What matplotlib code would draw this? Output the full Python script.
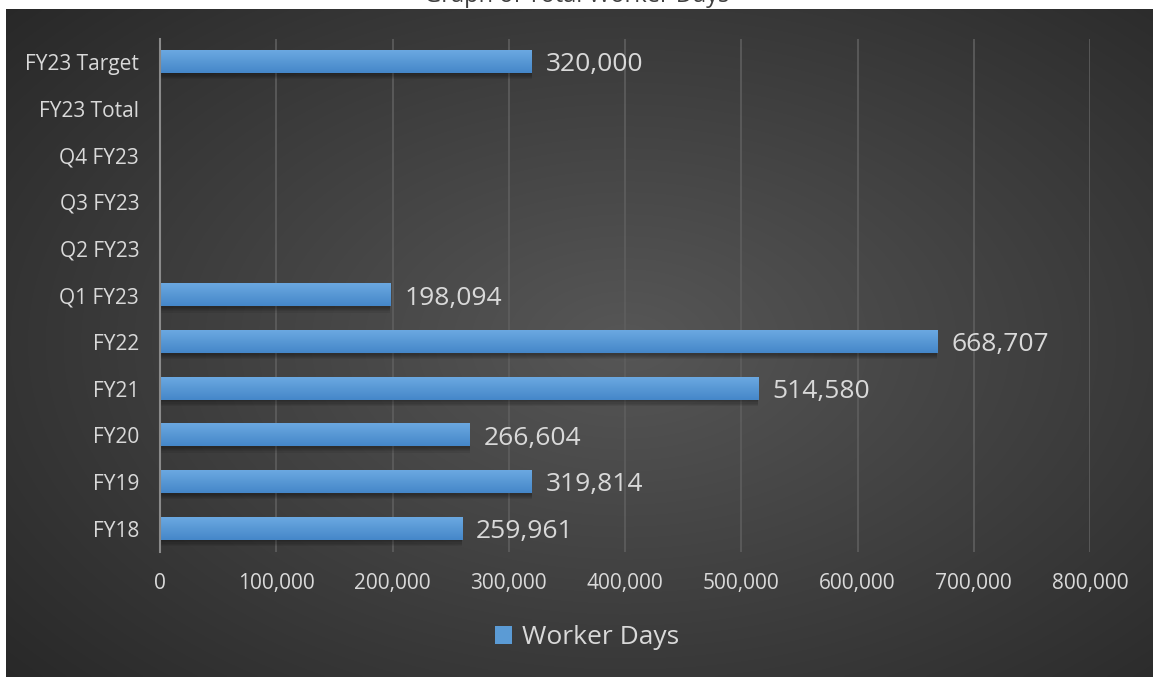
import numpy as np
import matplotlib.pyplot as plt
from matplotlib.patches import Rectangle
from matplotlib.ticker import FuncFormatter

categories = ['FY18', 'FY19', 'FY20', 'FY21', 'FY22', 'Q1 FY23',
              'Q2 FY23', 'Q3 FY23', 'Q4 FY23', 'FY23 Total', 'FY23 Target']
worker_days = [259961, 319814, 266604, 514580, 668707, 198094,
               np.nan, np.nan, np.nan, np.nan, 320000]
x_ticks = [0, 100000, 200000, 300000, 400000, 500000, 600000, 700000, 800000]

plt.rcParams['font.family'] = ['Open Sans', 'DejaVu Sans']
txt = '#d9d9d9'

fig = plt.figure(figsize=(11.53, 6.77), dpi=100, facecolor='white')

# => dark panel with radial gradient
bg = fig.add_axes([6 / 1153, 0, 1147 / 1153, 668 / 677])
yy, xx = np.mgrid[0:1:300j, 0:1:500j]
r = np.sqrt(((xx - 0.54) / 0.75) ** 2 + ((yy - 0.5) / 0.8) ** 2)
r = np.clip(r, 0, 1)
shade = 0.34 - 0.19 * r
bg.imshow(np.dstack([shade] * 3), aspect='auto', extent=(0, 1, 0, 1),
          interpolation='bilinear')
bg.set_axis_off()

# title, cut off by the top of the picture as in the original
fig.text(0.5, 1 - 2.5 / 677, 'Graph of Total Worker Days', ha='center',
         va='baseline', fontsize=17, color='#404040')

ax = fig.add_axes([160 / 1153, 1 - 552 / 677, 930 / 1153, 513.5 / 677])
ax.patch.set_alpha(0)
y = np.arange(len(categories))
h = 0.48

# soft bar shadows
for yi, v in zip(y, worker_days):
    if np.isnan(v):
        continue
    for k in range(5):
        off = 0.03 + 0.025 * k
        ax.add_patch(Rectangle((0, yi - h / 2 - off), v, h, color='black',
                               alpha=0.07, lw=0, zorder=2))

bars = ax.barh(y, np.nan_to_num(worker_days), height=h, color='#5b9bd5',
               zorder=3, label='Worker Days')

# vertical gradient on each bar
grad = np.linspace(0, 1, 50).reshape(-1, 1)
top_c = np.array([0.42, 0.66, 0.88])
bot_c = np.array([0.27, 0.53, 0.79])
img = top_c * (1 - grad[..., None]) + bot_c * grad[..., None]
for yi, v in zip(y, worker_days):
    if np.isnan(v):
        continue
    ax.imshow(img, extent=(0, v, yi - h / 2, yi + h / 2), aspect='auto',
              zorder=4, interpolation='bilinear')
    ax.text(v + 12000, yi, f'{int(v):,}', va='center_baseline', ha='left',
            fontsize=19, color=txt, zorder=5)

ax.set_xlim(0, 800000)
ax.set_ylim(-0.5, len(categories) - 0.5)
ax.set_xticks(x_ticks)
ax.xaxis.set_major_formatter(FuncFormatter(lambda v, p: f'{int(v):,}'))
ax.set_yticks(y)
ax.set_yticklabels(categories)
ax.tick_params(axis='both', length=0, labelsize=15, colors=txt)
ax.tick_params(axis='x', pad=15)
ax.tick_params(axis='y', pad=15)
ax.grid(axis='x', color='#5e5e5e', lw=1.2, zorder=0)
ax.set_axisbelow(True)
for s in ['top', 'right', 'bottom']:
    ax.spines[s].set_visible(False)
ax.spines['left'].set_color('#8a8a8a')
ax.spines['left'].set_linewidth(1.5)
ax.spines['left'].set_zorder(6)

fig.legend(handles=[bars], labels=['Worker Days'], loc='center',
           bbox_to_anchor=(587 / 1153, 1 - 638 / 677), frameon=False,
           fontsize=19, labelcolor=txt, handlelength=0.65, handleheight=0.65,
           handletextpad=0.35)

fig.savefig('out.png', dpi=100, facecolor='white')
